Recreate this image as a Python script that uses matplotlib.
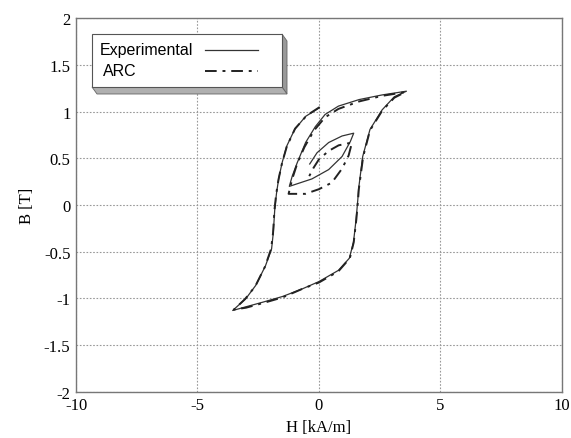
import numpy as np
import matplotlib.pyplot as plt
from matplotlib.patches import Polygon, Rectangle
from matplotlib.lines import Line2D

plt.rcParams['axes.unicode_minus'] = False

h_exp = [0.0, -0.55, -1.0, -1.33, -1.52, -1.66, -1.75, -1.82, -1.88, -1.95, -2.2, -2.6, -3.0, -3.55,
         -3.0, -2.3, -1.5, -0.7, 0.0, 0.8, 1.25, 1.42, 1.53, 1.6, 1.63, 1.8, 2.1, 2.6, 3.1, 3.6,
         2.6, 1.65, 0.8, 0.25, -0.15, -0.55, -0.9, -1.1, -1.22,
         -0.29, 0.4, 0.95, 1.29, 1.43,
         0.95, 0.4, -0.08, -0.38]
b_exp = [1.04, 0.95, 0.81, 0.63, 0.45, 0.28, 0.12, -0.05, -0.3, -0.47, -0.65, -0.86, -1.0, -1.13,
         -1.09, -1.04, -0.98, -0.9, -0.82, -0.7, -0.57, -0.4, -0.15, 0.06, 0.17, 0.52, 0.81, 1.02, 1.16, 1.22,
         1.18, 1.13, 1.06, 0.97, 0.84, 0.67, 0.45, 0.31, 0.2,
         0.28, 0.38, 0.52, 0.68, 0.77,
         0.74, 0.67, 0.56, 0.44]

# ARC model
h_arc = [0.03, -0.5, -0.98, -1.32, -1.52, -1.66, -1.76, -1.83, -1.89, -1.97, -2.22, -2.62, -3.05, -3.5,
         -3.0, -2.3, -1.5, -0.7, 0.0, 0.8, 1.27, 1.43, 1.54, 1.61, 1.64, 1.82, 2.1, 2.6, 3.1, 3.55,
         2.6, 1.65, 0.8, 0.25, -0.2, -0.6, -0.9, -1.1, -1.25,
         -0.56, 0.0, 0.53, 0.95, 1.22, 1.36,
         0.81, 0.4, 0.0, -0.22, -0.4]
b_arc = [1.05, 0.96, 0.82, 0.63, 0.45, 0.28, 0.12, -0.05, -0.3, -0.47, -0.66, -0.87, -1.01, -1.12,
         -1.1, -1.05, -0.99, -0.9, -0.83, -0.71, -0.57, -0.4, -0.15, 0.06, 0.17, 0.52, 0.8, 1.01, 1.15, 1.21,
         1.17, 1.11, 1.03, 0.94, 0.8, 0.62, 0.44, 0.28, 0.12,
         0.12, 0.17, 0.24, 0.39, 0.53, 0.67,
         0.64, 0.58, 0.49, 0.4, 0.31]

labels = ['Experimental', 'ARC']

serif = 'Liberation Serif'
exp_style = dict(color='#333333', lw=0.9)
arc_style = dict(color='#222222', lw=1.4, linestyle=(0, (6, 3, 1.5, 3)))

fig = plt.figure(figsize=(5.71, 4.39), dpi=100)
ax = fig.add_axes([0.1331, 0.1055, 0.851, 0.8503])

ax.plot(h_exp, b_exp, **exp_style)
ax.plot(h_arc, b_arc, **arc_style)

ax.set_xlim(-10, 10)
ax.set_ylim(-2, 2)
ax.set_xticks([-10, -5, 0, 5, 10])
ax.set_yticks(np.arange(-2, 2.01, 0.5))
ax.set_yticklabels(['-2', '-1.5', '-1', '-0.5', '0', '0.5', '1', '1.5', '2'])
ax.tick_params(length=0, labelsize=12, pad=4)
for lab in ax.get_xticklabels() + ax.get_yticklabels():
    lab.set_family(serif)
ax.grid(True, color='#999999', linestyle=(0, (1.5, 1.5)), linewidth=0.8)
for s in ax.spines.values():
    s.set_color('#777777')
    s.set_linewidth(1.0)

ax.set_xlabel('H [kA/m]', family=serif, fontsize=12, labelpad=4)
ax.set_ylabel('B [T]', family=serif, fontsize=12, labelpad=6)

# 3D-looking legend box, drawn in figure pixels (top-left origin)
W, H = 571, 439
def fp(x, y):
    return (x / W, 1 - y / H)

l, t, r, b, dx, dy = 92, 35, 282, 88, 5, 7
side = Polygon([fp(r, t), fp(r + dx, t + dy), fp(r + dx, b + dy), fp(r, b)],
               closed=True, transform=fig.transFigure, facecolor='#9a9a9a', edgecolor='#666666', lw=0.6)
bottom = Polygon([fp(l, b), fp(r, b), fp(r + dx, b + dy), fp(l + dx, b + dy)],
                 closed=True, transform=fig.transFigure, facecolor='#b0b0b0', edgecolor='#666666', lw=0.6)
front = Rectangle(fp(l, b), (r - l) / W, (b - t) / H, transform=fig.transFigure,
                  facecolor='white', edgecolor='#555555', lw=0.8)
for p in (side, bottom, front):
    p.set_clip_on(False)
    p.set_zorder(5)
    ax.add_artist(p)

# legend entries: text on the left, line sample on the right
for i, (name, st) in enumerate(zip(labels, [exp_style, arc_style])):
    y = 51 + 21 * i
    ax.text(*fp(100 + 3 * i, y), name, transform=fig.transFigure, ha='left', va='center',
            family='Liberation Sans', fontsize=11.5, zorder=6)
    ln = Line2D([205 / W, 258 / W], [1 - y / H] * 2, transform=fig.transFigure, zorder=6, **st)
    ln.set_clip_on(False)
    ax.add_artist(ln)

fig.savefig('out.png', dpi=100)
